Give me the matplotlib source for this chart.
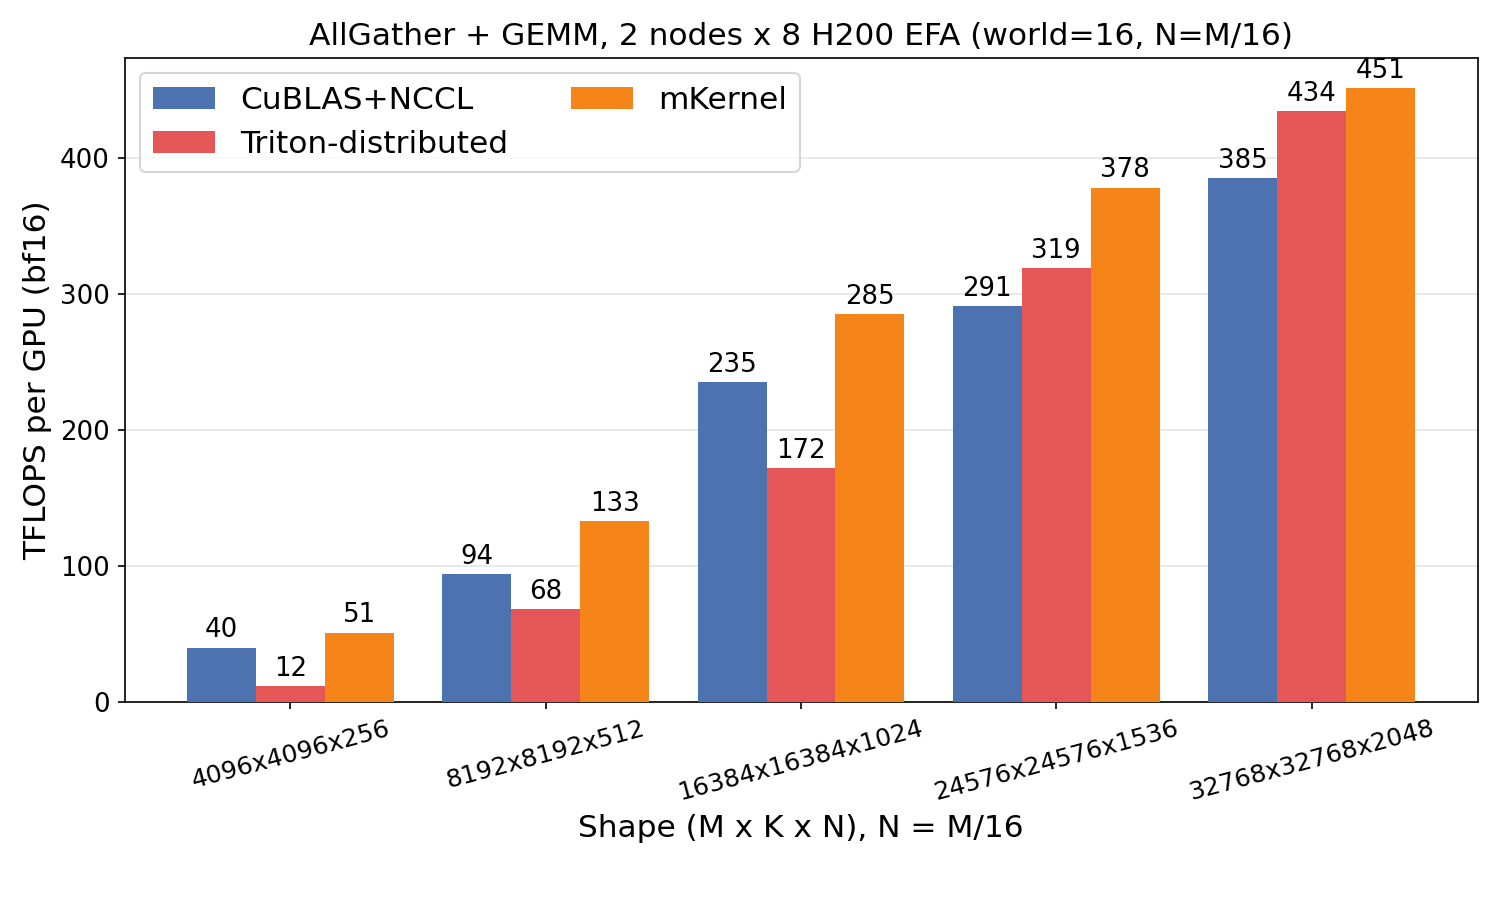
import numpy as np
import matplotlib.pyplot as plt

# Data
shapes = ["4096x4096x256", "8192x8192x512", "16384x16384x1024",
          "24576x24576x1536", "32768x32768x2048"]
cublas_nccl = [40, 94, 235, 291, 385]
triton_dist = [12, 68, 172, 319, 434]
mkernel = [51, 133, 285, 378, 451]

series = [
    ("CuBLAS+NCCL", cublas_nccl, "#4C72B0"),
    ("Triton-distributed", triton_dist, "#E45756"),
    ("mKernel", mkernel, "#F58518"),
]

fig, ax = plt.subplots(figsize=(10, 6), dpi=150)
fig.subplots_adjust(left=0.083, right=0.985, top=0.936, bottom=0.22)

x = np.arange(len(shapes))
width = 0.27
for i, (name, vals, color) in enumerate(series):
    bars = ax.bar(x + (i - 1) * width, vals, width, label=name, color=color, zorder=3)
    ax.bar_label(bars, labels=[str(v) for v in vals], padding=2, fontsize=12.5)

ax.set_xticks(x)
ax.set_xticklabels(shapes, rotation=15, fontsize=12)
ax.tick_params(axis="y", labelsize=12.5)
ax.set_xlim(-0.65, len(shapes) - 0.35)
ax.set_ylim(0, max(mkernel) * 1.05)
ax.set_xlabel("Shape (M x K x N), N = M/16", fontsize=15)
ax.set_ylabel("TFLOPS per GPU (bf16)", fontsize=15)
ax.set_title("AllGather + GEMM, 2 nodes x 8 H200 EFA (world=16, N=M/16)", fontsize=15)
ax.yaxis.grid(True, color="#e6e6e6", zorder=0)
ax.legend(ncol=2, fontsize=15, loc="upper left")

fig.savefig("out.png")
